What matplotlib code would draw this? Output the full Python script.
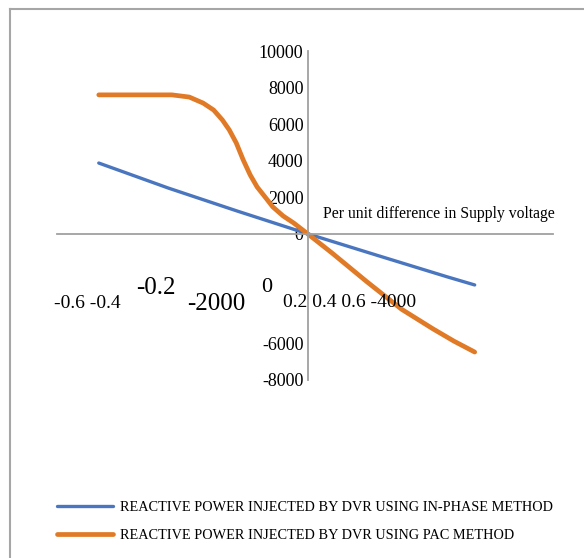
import matplotlib.pyplot as plt
from matplotlib.lines import Line2D

plt.rcParams['font.family'] = ['Liberation Serif', 'DejaVu Serif']

# per unit difference in supply voltage vs reactive power injected
x_inphase = [-0.6, -0.4, -0.2, 0.0, 0.2, 0.4, 0.48]
q_inphase = [3870, 2500, 1230, 0, -1180, -2350, -2800]

x_pac = [-0.6, -0.39, -0.34, -0.30, -0.27, -0.245, -0.225, -0.205, -0.185,
         -0.165, -0.145, -0.12, -0.10, -0.07, -0.04, 0.0, 0.07, 0.17, 0.27,
         0.36, 0.42, 0.48]
q_pac = [7600, 7600, 7480, 7150, 6770, 6230, 5680, 4970, 4040,
         3220, 2560, 1960, 1470, 970, 590, 0, -1050, -2620, -4130,
         -5200, -5870, -6470]

y_ticks = [10000, 8000, 6000, 4000, 2000, 0, -6000, -8000]
# the x labels and two y labels ended up jumbled in one row
row_labels = ['-0.6 -0.4', '-0.2', '-2000', '0', '0.2 0.4 0.6 -4000']
labels = ['REACTIVE POWER INJECTED BY DVR USING IN-PHASE METHOD',
          'REACTIVE POWER INJECTED BY DVR USING PAC METHOD']
xlabel = 'Per unit difference in Supply voltage'

W, H = 584, 558
fig = plt.figure(figsize=(W/100, H/100), dpi=100)
ax = fig.add_axes([57/W, 1-380/H, (553-57)/W, (380-51)/H])

c_blue = '#4A76C0'
c_orange = '#E07A26'
ax.plot(x_inphase, q_inphase, color=c_blue, lw=2.4, solid_capstyle='round',
        solid_joinstyle='round', label=labels[0])
ax.plot(x_pac, q_pac, color=c_orange, lw=3.4, solid_capstyle='round',
        solid_joinstyle='round', label=labels[1])

ax.set_xlim(-0.72, 0.705)
ax.set_ylim(-8000, 10000)
for s in ['top', 'right']:
    ax.spines[s].set_visible(False)
ax.spines['left'].set_position(('data', 0))
ax.spines['bottom'].set_position(('data', 0))
for s in ['left', 'bottom']:
    ax.spines[s].set_color('#A0A0A0')
    ax.spines[s].set_linewidth(1.3)
ax.set_xticks([])
ax.set_yticks(y_ticks)
ax.set_yticklabels([str(v) for v in y_ticks], fontsize=13)
ax.tick_params(axis='y', length=0, pad=3)

def px(x, y):
    return x/W, 1-y/H

sizes = [14, 18, 18, 16, 14]
pos = [(54, 308), (136, 294), (187, 310), (261, 292), (283, 307)]
for t, s, p in zip(row_labels, sizes, pos):
    fig.text(*px(*p), t, fontsize=s, ha='left', va='baseline')

fig.text(*px(323, 218), xlabel, fontsize=11.3, ha='left', va='baseline')

# outer chart border (only top and left visible)
fig.add_artist(Line2D([10/W, 10/W], [0, 1-9/H], transform=fig.transFigure,
                      color='#A6A6A6', lw=1.5))
fig.add_artist(Line2D([10/W, 1], [1-9/H, 1-9/H], transform=fig.transFigure,
                      color='#A6A6A6', lw=1.5))

fig.legend(loc='upper left', bbox_to_anchor=px(57, 501), frameon=False,
           fontsize=10.3, handlelength=3.9, handletextpad=0.5,
           labelspacing=1.05, borderpad=0, borderaxespad=0)

fig.savefig('out.png', dpi=100)
